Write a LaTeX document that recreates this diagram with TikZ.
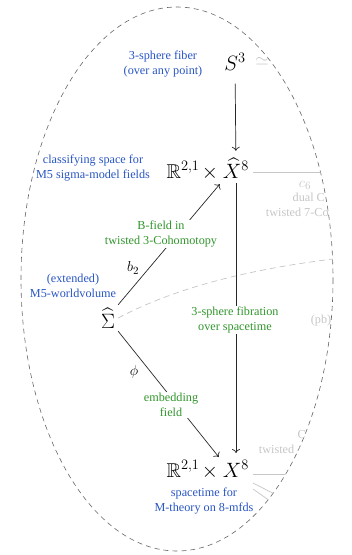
\documentclass[tikz,border=0pt]{standalone}
\usepackage{amsmath}
\usepackage{amssymb}
\usepackage{fontspec}
\setmainfont{Liberation Serif}
\usetikzlibrary{arrows.meta}

\definecolor{notegreen}{RGB}{50,150,45}
\definecolor{noteblue}{RGB}{40,85,195}

\begin{document}
\begin{tikzpicture}[x=1pt,y=-1pt,
		big/.style={font=\fontsize{20}{24}\selectfont,inner sep=3pt},
		small/.style={font=\fontsize{15}{18}\selectfont,inner sep=1pt},
		note/.style={font=\fontsize{12.2}{15}\selectfont,align=center,inner sep=1pt},
		bluenote/.style={note,text=noteblue},
		greennote/.style={note,text=notegreen,fill=white},
		faint/.style={gray!45},
		map/.style={-{To[length=4pt,width=8pt]},line width=0.7pt,black!85}]
	\useasboundingbox (0,0) rectangle (352,555);
	% the outer dashed region
	\draw[black!60,line width=0.6pt,dash pattern=on 5pt off 4pt] (177,279) ellipse [x radius=156, y radius=272];
	% objects
	\node[big] (S3) at (235,62) {$S^3$};
	\node[big,anchor=base,inner xsep=0pt] (Xhat) at (236,178) {$\widehat{X}^8$};
	\node[big,anchor=base east,inner xsep=0pt] (Rhat) at (Xhat.base west) {$\mathbb{R}^{2,1}\mskip-2mu\times{}$};
	\node[big,anchor=base,inner xsep=0pt] (X) at (236,477) {$X^8$};
	\node[big,anchor=base east,inner xsep=0pt] (R) at (X.base west) {$\mathbb{R}^{2,1}\mskip-2mu\times{}$};
	\node[big] (Sigma) at (108,318) {$\widehat{\Sigma}$};
	% what is outside, cut off by the region
	\begin{scope}
		\clip (177,279) ellipse [x radius=156, y radius=272];
		\node[font=\fontsize{16}{18}\selectfont,faint] (eqv) at (262,61) {$\simeq$};
		\coordinate (cfar) at (352,172);
		\draw[faint,line width=0.7pt] (253,172) -- (cfar);
		\node[small,faint] (c6) at (305,185) {$c_6$};
		\node[note,faint] (dual) at (322,206) {dual C-field\\twisted 7-Cohomotopy};
		\coordinate (pbend) at (350,257);
		\draw[faint,line width=0.7pt,dash pattern=on 6pt off 4pt]
			(Sigma.east) .. controls (175,288) and (250,268) .. (pbend);
		\node[note,faint] (pb) at (321,321) {(pb)};
		\node[note,faint] (cfield) at (315,443) {C-field\\twisted 4-Cohomotopy};
		\coordinate (xfar) at (352,474);
		\draw[faint,line width=0.7pt] (253,474) -- (xfar);
		\coordinate (dfar) at (300,507);
		\coordinate (dfar2) at (290,515);
		\draw[faint,line width=0.7pt] (253,483) -- (dfar);
		\draw[faint,line width=0.7pt] (253,489) -- (dfar2);
	\end{scope}
	% the maps
	\draw[map,shorten <=10pt,shorten >=4pt] (S3) -- (Xhat);
	\draw[map,shorten <=2pt,shorten >=4pt] (Xhat) -- (X);
	\draw[map] (Sigma.north east) -- ([xshift=-3pt,yshift=-3pt]Xhat.south west);
	\draw[map] (Sigma.south east) -- ([xshift=-4pt]X.north west);
	\node[small] (b2) at (133,268) {$b_2$};
	\node[small] (phi) at (134,372) {$\phi$};
	% labels
	\node[bluenote] (fiber) at (163,64) {3-sphere fiber\\(over any point)};
	\node[bluenote] (classify) at (93,168) {classifying space for\\M5 sigma-model fields};
	\node[bluenote] (world) at (73,286) {(extended)\\M5-worldvolume};
	\node[bluenote] (spacetime) at (204,501) {spacetime for\\M-theory on 8-mfds};
	\node[greennote] (bfield) at (161,234) {B-field in\\twisted 3-Cohomotopy};
	\node[greennote] (fibration) at (235,320) {3-sphere fibration\\over spacetime};
	\node[greennote] (embed) at (171,405) {embedding\\field};
\end{tikzpicture}
\end{document}
